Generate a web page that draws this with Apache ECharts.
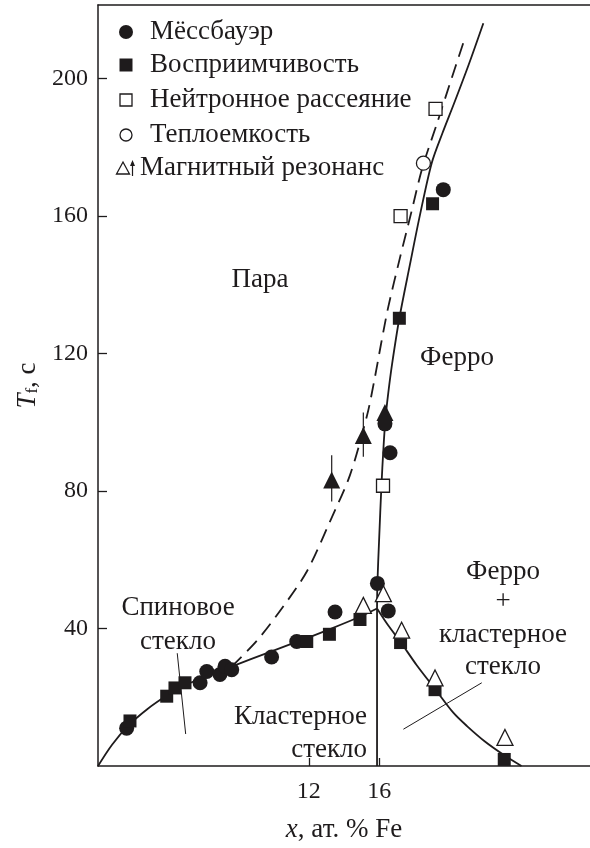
<!DOCTYPE html>
<html><head><meta charset="utf-8">
<script src="https://cdn.jsdelivr.net/npm/echarts@6/dist/echarts.min.js"></script>
<style>html,body{margin:0;padding:0;background:#fff}#c{width:590px;height:848px}</style>
</head><body><div id="c"></div>
<script>
// ---- data ----
const xTickValues = [12, 16];
const yTickValues = [40, 80, 120, 160, 200];

const mossbauer = [[1.63,11.0],[5.81,24.2],[6.19,27.5],[6.94,26.6],[7.23,29.0],[7.61,28.0],[9.88,31.7],[11.31,36.2],[13.49,44.8],[15.9,53.1],[16.52,45.1],[16.62,91.1],[16.33,99.5],[19.65,167.6]];
const susceptibility = [[1.82,13.1],[3.91,20.3],[4.38,22.7],[4.95,24.2],[11.88,36.2],[13.17,38.3],[14.91,42.6],[17.22,35.9],[19.18,22.2],[23.12,1.9],[17.15,130.2],[19.04,163.5]];
const neutron = [[19.21,191.1],[17.22,159.9],[16.22,81.5]];
const heatCapacity = [[18.52,175.3]];
const resonanceOpen = [[15.1,46.7],[16.24,50.1],[17.28,39.5],[19.18,25.6],[23.16,8.3]];
const resonanceFilled = [[13.3,83.2],[15.1,96.1],[16.33,102.8]];
const arrowA = [[13.3,76.9],[13.3,90.4]];
const arrowB = [[15.1,89.9],[15.1,102.8]];

const lowerCurve = [[0,0],[0.8,6.2],[1.7,11.6],[2.8,16.5],[3.9,20.4],[5.0,23.6],[6.3,26.3],[7.6,28.9],[9.8,33.2],[11.9,37.2],[13.2,39.8],[14.9,43.4],[15.88,45.8]];
const descCurve = [[15.88,45.8],[16.5,41.0],[17.2,36.2],[18.14,29.3],[19.18,22.4],[20.22,15.5],[21.0,11.6],[22.0,7.2],[23.1,3.2],[24.1,0]];
const verticalLine = [[15.88,0],[15.88,45.8]];
const ferroCurve = [[15.88,45.8],[15.9,53],[16.0,66],[16.13,81.5],[16.24,92],[16.36,101],[16.52,108.5],[16.74,117],[17.15,130.2],[17.76,146.0],[18.33,160.4],[18.99,175.3],[19.6,184],[20.25,192.5],[21.1,204],[21.93,216]];
const dashedCurve = [[7.6,28.9],[9.05,36.5],[10.53,46.3],[11.9,56.7],[13.2,71.1],[14.34,84.6],[15.31,101.9],[15.72,112],[16.1,122.5],[16.52,133.5],[17.19,147.9],[17.85,161.4],[18.45,173.8],[19.3,187],[20.0,198],[20.79,210.3]];
const spinGlassBoundary = [[4.51,32.8],[4.99,9.3]];
const clusterBoundary = [[17.38,10.7],[21.84,24.2]];

// ---- styling ----
const INK = '#1e1b1c';
const FONT = '"Liberation Serif", "DejaVu Serif", serif';

const chart = echarts.init(document.getElementById('c'), null, {renderer: 'canvas'});

function lineSeries(data, opts) {
  return Object.assign({
    type: 'line', data: data, symbol: 'none', silent: true,
    lineStyle: {color: INK, width: 1.8}, z: 2, animation: false
  }, opts || {});
}
function scatter(name, data, symbol, size, filled) {
  return {
    type: 'scatter', name: name, data: data, symbol: symbol, symbolSize: size,
    itemStyle: filled ? {color: INK, opacity: 1} : {color: '#fff', borderColor: INK, borderWidth: 1.3, opacity: 1},
    z: 5, animation: false, silent: true
  };
}

const txt = (t, x, y, align) => ({
  type: 'text', x: x, y: y, silent: true,
  style: {text: t, font: '27px ' + FONT, fill: INK, textAlign: align || 'center', textVerticalAlign: 'middle'}
});

const legendRows = [
  {t: 'Мёссбауэр', y: 32},
  {t: 'Восприимчивость', y: 65},
  {t: 'Нейтронное рассеяние', y: 100},
  {t: 'Теплоемкость', y: 135},
  {t: 'Магнитный резонанс', y: 168, x: 140}
];

const graphics = [
  {type: 'circle', shape: {cx: 126, cy: 32, r: 7}, style: {fill: INK}},
  {type: 'rect', shape: {x: 119.5, y: 58.5, width: 13, height: 13}, style: {fill: INK}},
  {type: 'rect', shape: {x: 120, y: 94, width: 12, height: 12}, style: {fill: '#fff', stroke: INK, lineWidth: 1.3}},
  {type: 'circle', shape: {cx: 126, cy: 135, r: 6}, style: {fill: '#fff', stroke: INK, lineWidth: 1.3}},
  {type: 'polygon', shape: {points: [[116.5,174],[129.5,174],[123,162]]}, style: {fill: '#fff', stroke: INK, lineWidth: 1.3}},
  {type: 'line', shape: {x1: 132.5, y1: 176, x2: 132.5, y2: 162}, style: {stroke: INK, lineWidth: 1.2}},
  {type: 'polygon', shape: {points: [[130,166],[135,166],[132.5,160]]}, style: {fill: INK}}
];
legendRows.forEach(r => graphics.push(txt(r.t, r.x || 150, r.y, 'left')));
graphics.push(
  txt('Пара', 260, 280),
  txt('Ферро', 457, 358),
  txt('Спиновое', 178, 608),
  txt('стекло', 178, 642),
  txt('Кластерное', 367, 717, 'right'),
  txt('стекло', 367, 750, 'right'),
  txt('Ферро', 503, 572),
  txt('+', 503, 602),
  txt('кластерное', 503, 635),
  txt('стекло', 503, 667)
);

chart.setOption({
  animation: false,
  backgroundColor: '#fff',
  grid: {left: 98, right: 0, top: 5, bottom: 74, containLabel: false},
  xAxis: [{
    type: 'value', min: 0, max: 28, position: 'bottom',
    name: '{i|x}{n|, ат. % Fe}', nameLocation: 'middle', nameGap: 50,
    nameTextStyle: {rich: {
      i: {fontFamily: FONT, fontSize: 27, fontStyle: 'italic', color: INK},
      n: {fontFamily: FONT, fontSize: 27, color: INK}
    }},
    axisLine: {show: true, lineStyle: {color: INK, width: 1.5}},
    axisTick: {show: true, inside: true, length: 8, customValues: xTickValues, lineStyle: {color: INK, width: 1.3}},
    axisLabel: {show: true, customValues: xTickValues, margin: 14, fontFamily: FONT, fontSize: 24, color: INK},
    splitLine: {show: false}
  }, {
    type: 'value', min: 0, max: 28, position: 'top',
    axisLine: {show: true, lineStyle: {color: INK, width: 1.5}},
    axisTick: {show: false}, axisLabel: {show: false}, splitLine: {show: false}
  }],
  yAxis: [{
    type: 'value', min: 0, max: 221.3,
    name: '{i|T}{s|f}{n|, c}', nameLocation: 'middle', nameGap: 46, nameRotate: 90,
    nameTextStyle: {rich: {
      i: {fontFamily: FONT, fontSize: 27, fontStyle: 'italic', color: INK},
      s: {fontFamily: FONT, fontSize: 17, color: INK, padding: [10, 0, 0, 0]},
      n: {fontFamily: FONT, fontSize: 27, color: INK}
    }},
    axisLine: {show: true, lineStyle: {color: INK, width: 1.5}},
    axisTick: {show: true, inside: true, length: 9, customValues: yTickValues, lineStyle: {color: INK, width: 1.3}},
    axisLabel: {show: true, customValues: yTickValues, margin: 10, fontFamily: FONT, fontSize: 24, color: INK},
    splitLine: {show: false}
  }],
  graphic: graphics,
  series: [
    lineSeries(lowerCurve, {smooth: 0.3}),
    lineSeries(descCurve, {smooth: 0.3}),
    lineSeries(verticalLine),
    lineSeries(ferroCurve, {smooth: 0.3}),
    lineSeries(dashedCurve, {smooth: 0.3, lineStyle: {color: INK, width: 1.8, type: [14, 8]}}),
    lineSeries(spinGlassBoundary, {lineStyle: {color: INK, width: 1}}),
    lineSeries(clusterBoundary, {lineStyle: {color: INK, width: 1}}),
    lineSeries(arrowA, {lineStyle: {color: INK, width: 1.2}}),
    lineSeries(arrowB, {lineStyle: {color: INK, width: 1.2}}),
    scatter('Мёссбауэр', mossbauer, 'circle', 15, true),
    scatter('Восприимчивость', susceptibility, 'rect', 13, true),
    scatter('Нейтронное рассеяние', neutron, 'rect', 13, false),
    scatter('Теплоемкость', heatCapacity, 'circle', 14, false),
    scatter('Магнитный резонанс', resonanceOpen, 'triangle', 16, false),
    scatter('Магнитный резонанс (стрелки)', resonanceFilled, 'triangle', 17, true)
  ]
});
</script></body></html>
